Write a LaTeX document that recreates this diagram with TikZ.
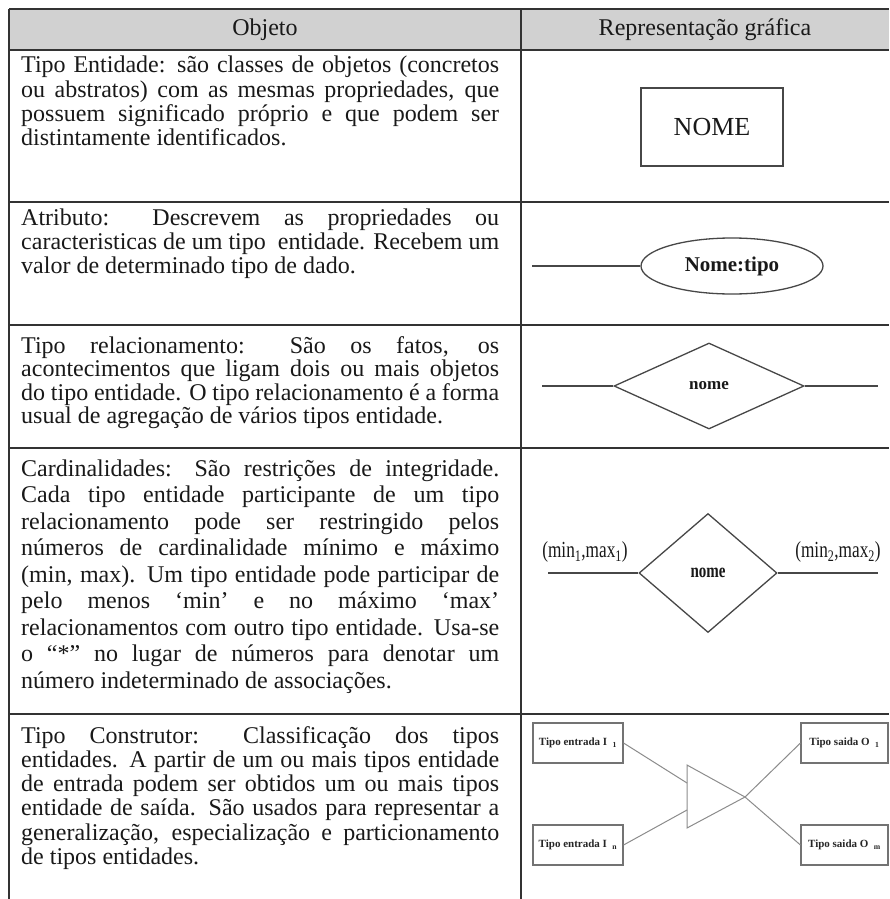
\documentclass[tikz,border=0pt]{standalone}
\usepackage{fontspec}
\setmainfont{Liberation Serif}[WordSpace={1,1,2.5}]
\newfontfamily\condfont[FakeStretch=0.75]{Liberation Serif}
\usetikzlibrary{shapes.geometric}
\newcommand{\jl}[1]{\noindent\makebox[\linewidth][s]{#1}\par}
\newcommand{\el}[1]{\noindent\mbox{#1}\par}
\newcommand{\cellpar}[3]{\parbox[t]{478pt}{\setlength\parindent{0pt}\setlength\parskip{0pt}\fontsize{#1}{#2}\selectfont #3}}
\begin{document}
\begin{tikzpicture}[x=1pt,y=-1pt,
  grid/.style={draw=black!80, line width=1.4pt},
  hdrfill/.style={fill=black!18},
  hdrtxt/.style={inner sep=0pt, font=\fontsize{24}{24}\selectfont, text=black!90},
  txt/.style={inner sep=0pt, anchor=base west, text=black!90},
  shp/.style={draw=black!72, line width=1.3pt, text=black!90},
  conn/.style={draw=black!72, line width=1.3pt},
  condlbl/.style={inner sep=0pt, font=\condfont\fontsize{23}{23}\selectfont, text=black!90},
  ctbox/.style={draw=black!55, line width=1.1pt, minimum height=40pt, inner sep=0pt, font=\bfseries\fontsize{11}{11}\selectfont, text=black!85},
  thin/.style={draw=black!45, line width=1pt}
]
\useasboundingbox (0,0) rectangle (889,899);
\fill[white] (0,0) rectangle (889,899);
% header fill
\fill[hdrfill] (9,9) rectangle (889,50);
% table grid
\draw[grid] (9,9) -- (889,9);
\draw[grid] (9,50) -- (889,50);
\draw[grid] (9,202) -- (889,202);
\draw[grid] (9,325) -- (889,325);
\draw[grid] (9,448) -- (889,448);
\draw[grid] (9,714) -- (889,714);
\draw[grid] (9,9) -- (9,899);
\draw[grid] (521,9) -- (521,899);
% header
\node[hdrtxt] (h1) at (265,30) {Objeto};
\node[hdrtxt] (h2) at (705,30) {Representação gráfica};
% left column texts
\node[txt] (t1) at (21,73) {\cellpar{24}{24.3}{%
\jl{Tipo Entidade: são classes de objetos (concretos}
\jl{ou abstratos) com as mesmas propriedades, que}
\jl{possuem significado próprio e que podem ser}
\el{distintamente identificados.}}};
\node[txt] (t2) at (21,225) {\cellpar{24}{24.3}{%
\jl{Atributo: Descrevem as propriedades ou}
\jl{caracteristicas de um tipo\ \ entidade. Recebem um}
\el{valor de determinado tipo de dado.}}};
\node[txt] (t3) at (21,353) {\cellpar{24}{23.6}{%
\jl{Tipo relacionamento: São os fatos, os}
\jl{acontecimentos que ligam dois ou mais objetos}
\jl{do tipo entidade. O tipo relacionamento é a forma}
\el{usual de agregação de vários tipos entidade.}}};
\node[txt] (t4) at (21,476) {\cellpar{24}{26.5}{%
\jl{Cardinalidades: São restrições de integridade.}
\jl{Cada tipo entidade participante de um tipo}
\jl{relacionamento pode ser restringido pelos}
\jl{números de cardinalidade mínimo e máximo}
\jl{(min, max). Um tipo entidade pode participar de}
\jl{pelo menos ‘min’ e no máximo ‘max’}
\jl{relacionamentos com outro tipo entidade. Usa-se}
\jl{o “*” no lugar de números para denotar um}
\el{número indeterminado de associações.}}};
\node[txt] (t5) at (21,743) {\cellpar{24}{24.3}{%
\jl{Tipo Construtor: Classificação dos tipos}
\jl{entidades. A partir de um ou mais tipos entidade}
\jl{de entrada podem ser obtidos um ou mais tipos}
\jl{entidade de saída. São usados para representar a}
\jl{generalização, especialização e particionamento}
\el{de tipos entidades.}}};
% row 1: entity
\node[shp, rectangle, minimum width=142pt, minimum height=78pt, inner sep=0pt,
      font=\fontsize{26}{26}\selectfont] (ent) at (712,127) {NOME};
% row 2: attribute
\node[shp, ellipse, minimum width=182pt, minimum height=56pt, inner sep=0pt,
      font=\bfseries\fontsize{21}{21}\selectfont] (attr) at (732,266) {Nome:tipo};
\coordinate (attrL) at (532,266);
\draw[conn] (attrL) -- (attr.west);
% row 3: relationship
\node[shp, diamond, minimum width=190pt, minimum height=86pt, inner sep=0pt,
      font=\bfseries\fontsize{17}{17}\selectfont] (rel) at (709,386) {nome};
\coordinate (relL) at (542,386);
\coordinate (relR) at (878,386);
\draw[conn] (relL) -- (rel.west);
\draw[conn] (rel.east) -- (relR);
% row 4: cardinalities
\node[shp, diamond, minimum width=138pt, minimum height=119pt, inner sep=0pt,
      font=\condfont\bfseries\fontsize{20}{20}\selectfont] (card) at (708,573) {nome};
\coordinate (cardL) at (548,573);
\coordinate (cardR) at (878,573);
\draw[conn] (cardL) -- (card.west);
\draw[conn] (card.east) -- (cardR);
\node[condlbl] (c1) at (585,552) {(min\textsubscript{1},max\textsubscript{1})};
\node[condlbl] (c2) at (838,552) {(min\textsubscript{2},max\textsubscript{2})};
% row 5: constructor
\node[ctbox, minimum width=90pt] (i1) at (578,743) {Tipo entrada I\ \ \textsubscript{1}};
\node[ctbox, minimum width=90pt] (in) at (578,845) {Tipo entrada I\ \ \textsubscript{n}};
\node[ctbox, minimum width=87pt] (o1) at (844.5,743) {Tipo saida O\ \ \textsubscript{1}};
\node[ctbox, minimum width=87pt] (om) at (844.5,845) {Tipo saida O\ \ \textsubscript{m}};
\coordinate (tT) at (687,765);
\coordinate (tB) at (687,828);
\coordinate (tA) at (745,797);
\coordinate (tI1) at (687,783);
\coordinate (tIn) at (687,810);
\draw[thin] (tT) -- (tA) -- (tB) -- cycle;
\draw[thin] (i1.east) -- (tI1);
\draw[thin] (in.east) -- (tIn);
\draw[thin] (tA) -- (o1.west);
\draw[thin] (tA) -- (om.west);
\end{tikzpicture}
\end{document}
